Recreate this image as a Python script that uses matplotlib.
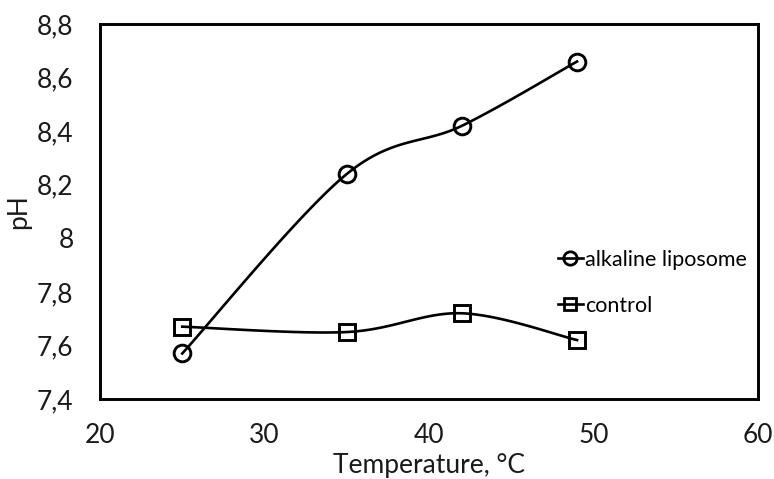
import numpy as np
import matplotlib.pyplot as plt
from matplotlib.lines import Line2D
from matplotlib.ticker import FuncFormatter

temperature = [25, 35, 42, 49]
ph_liposome = [7.57, 8.24, 8.42, 8.66]
ph_control = [7.67, 7.65, 7.72, 7.62]

plt.rcParams['font.family'] = ['Lato', 'DejaVu Sans']
txt = '#1a1a1a'


def excel_smooth(x, y, n=40):
    # cubic Bezier through the points, control points from neighbours
    x = np.asarray(x, float)
    y = np.asarray(y, float)
    px = np.concatenate([[x[0]], x, [x[-1]]])
    py = np.concatenate([[y[0]], y, [y[-1]]])
    xs, ys = [], []
    t = np.linspace(0, 1, n)
    for i in range(1, len(x)):
        p0 = np.array([px[i], py[i]])
        p3 = np.array([px[i + 1], py[i + 1]])
        p1 = p0 + (p3 - np.array([px[i - 1], py[i - 1]])) / 6
        p2 = p3 - (np.array([px[i + 2], py[i + 2]]) - p0) / 6
        b = ((1 - t) ** 3)[:, None] * p0 + (3 * (1 - t) ** 2 * t)[:, None] * p1 \
            + (3 * (1 - t) * t ** 2)[:, None] * p2 + (t ** 3)[:, None] * p3
        xs.extend(b[:, 0])
        ys.extend(b[:, 1])
    return xs, ys


fig = plt.figure(figsize=(7.74, 4.79), dpi=100)
ax = fig.add_axes([100 / 774, 80 / 479, 658 / 774, 375 / 479])

handles = []
for vals, marker, ms, label in [(ph_liposome, 'o', 12, 'alkaline liposome'), (ph_control, 's', 11, 'control')]:
    sx, sy = excel_smooth(temperature, vals)
    ax.plot(sx, sy, color='black', linewidth=1.9)
    ax.plot(temperature, vals, linestyle='none', marker=marker, markersize=ms,
            markerfacecolor='none', markeredgecolor='black', markeredgewidth=2.1)
    handles.append(Line2D([], [], color='black', linewidth=1.9, marker=marker, markersize=ms * 0.8,
                          markerfacecolor='none', markeredgewidth=2.0, label=label))

ax.set_xlim(20, 60)
ax.set_ylim(7.4, 8.8)
ax.set_xticks(np.arange(20, 61, 10))
ax.set_yticks(np.arange(7.4, 8.81, 0.2))
ax.yaxis.set_major_formatter(FuncFormatter(lambda v, p: f'{v:.1f}'.rstrip('0').rstrip('.').replace('.', ',')))
ax.tick_params(length=0, labelsize=19, colors=txt)
ax.tick_params(axis='y', pad=19)
ax.tick_params(axis='x', pad=17)
for s in ax.spines.values():
    s.set_linewidth(2.1)
ax.set_xlabel('Temperature, °C', fontsize=19, color=txt, labelpad=4)
ax.set_ylabel('pH', fontsize=19, color=txt, labelpad=4)

ax.legend(handles=handles, loc='upper left', bbox_to_anchor=(0.696, 0.398), frameon=False,
          fontsize=15.5, handlelength=1.15, handletextpad=0.1, labelspacing=1.22,
          borderpad=0, borderaxespad=0)

fig.savefig('out.png', dpi=100)
